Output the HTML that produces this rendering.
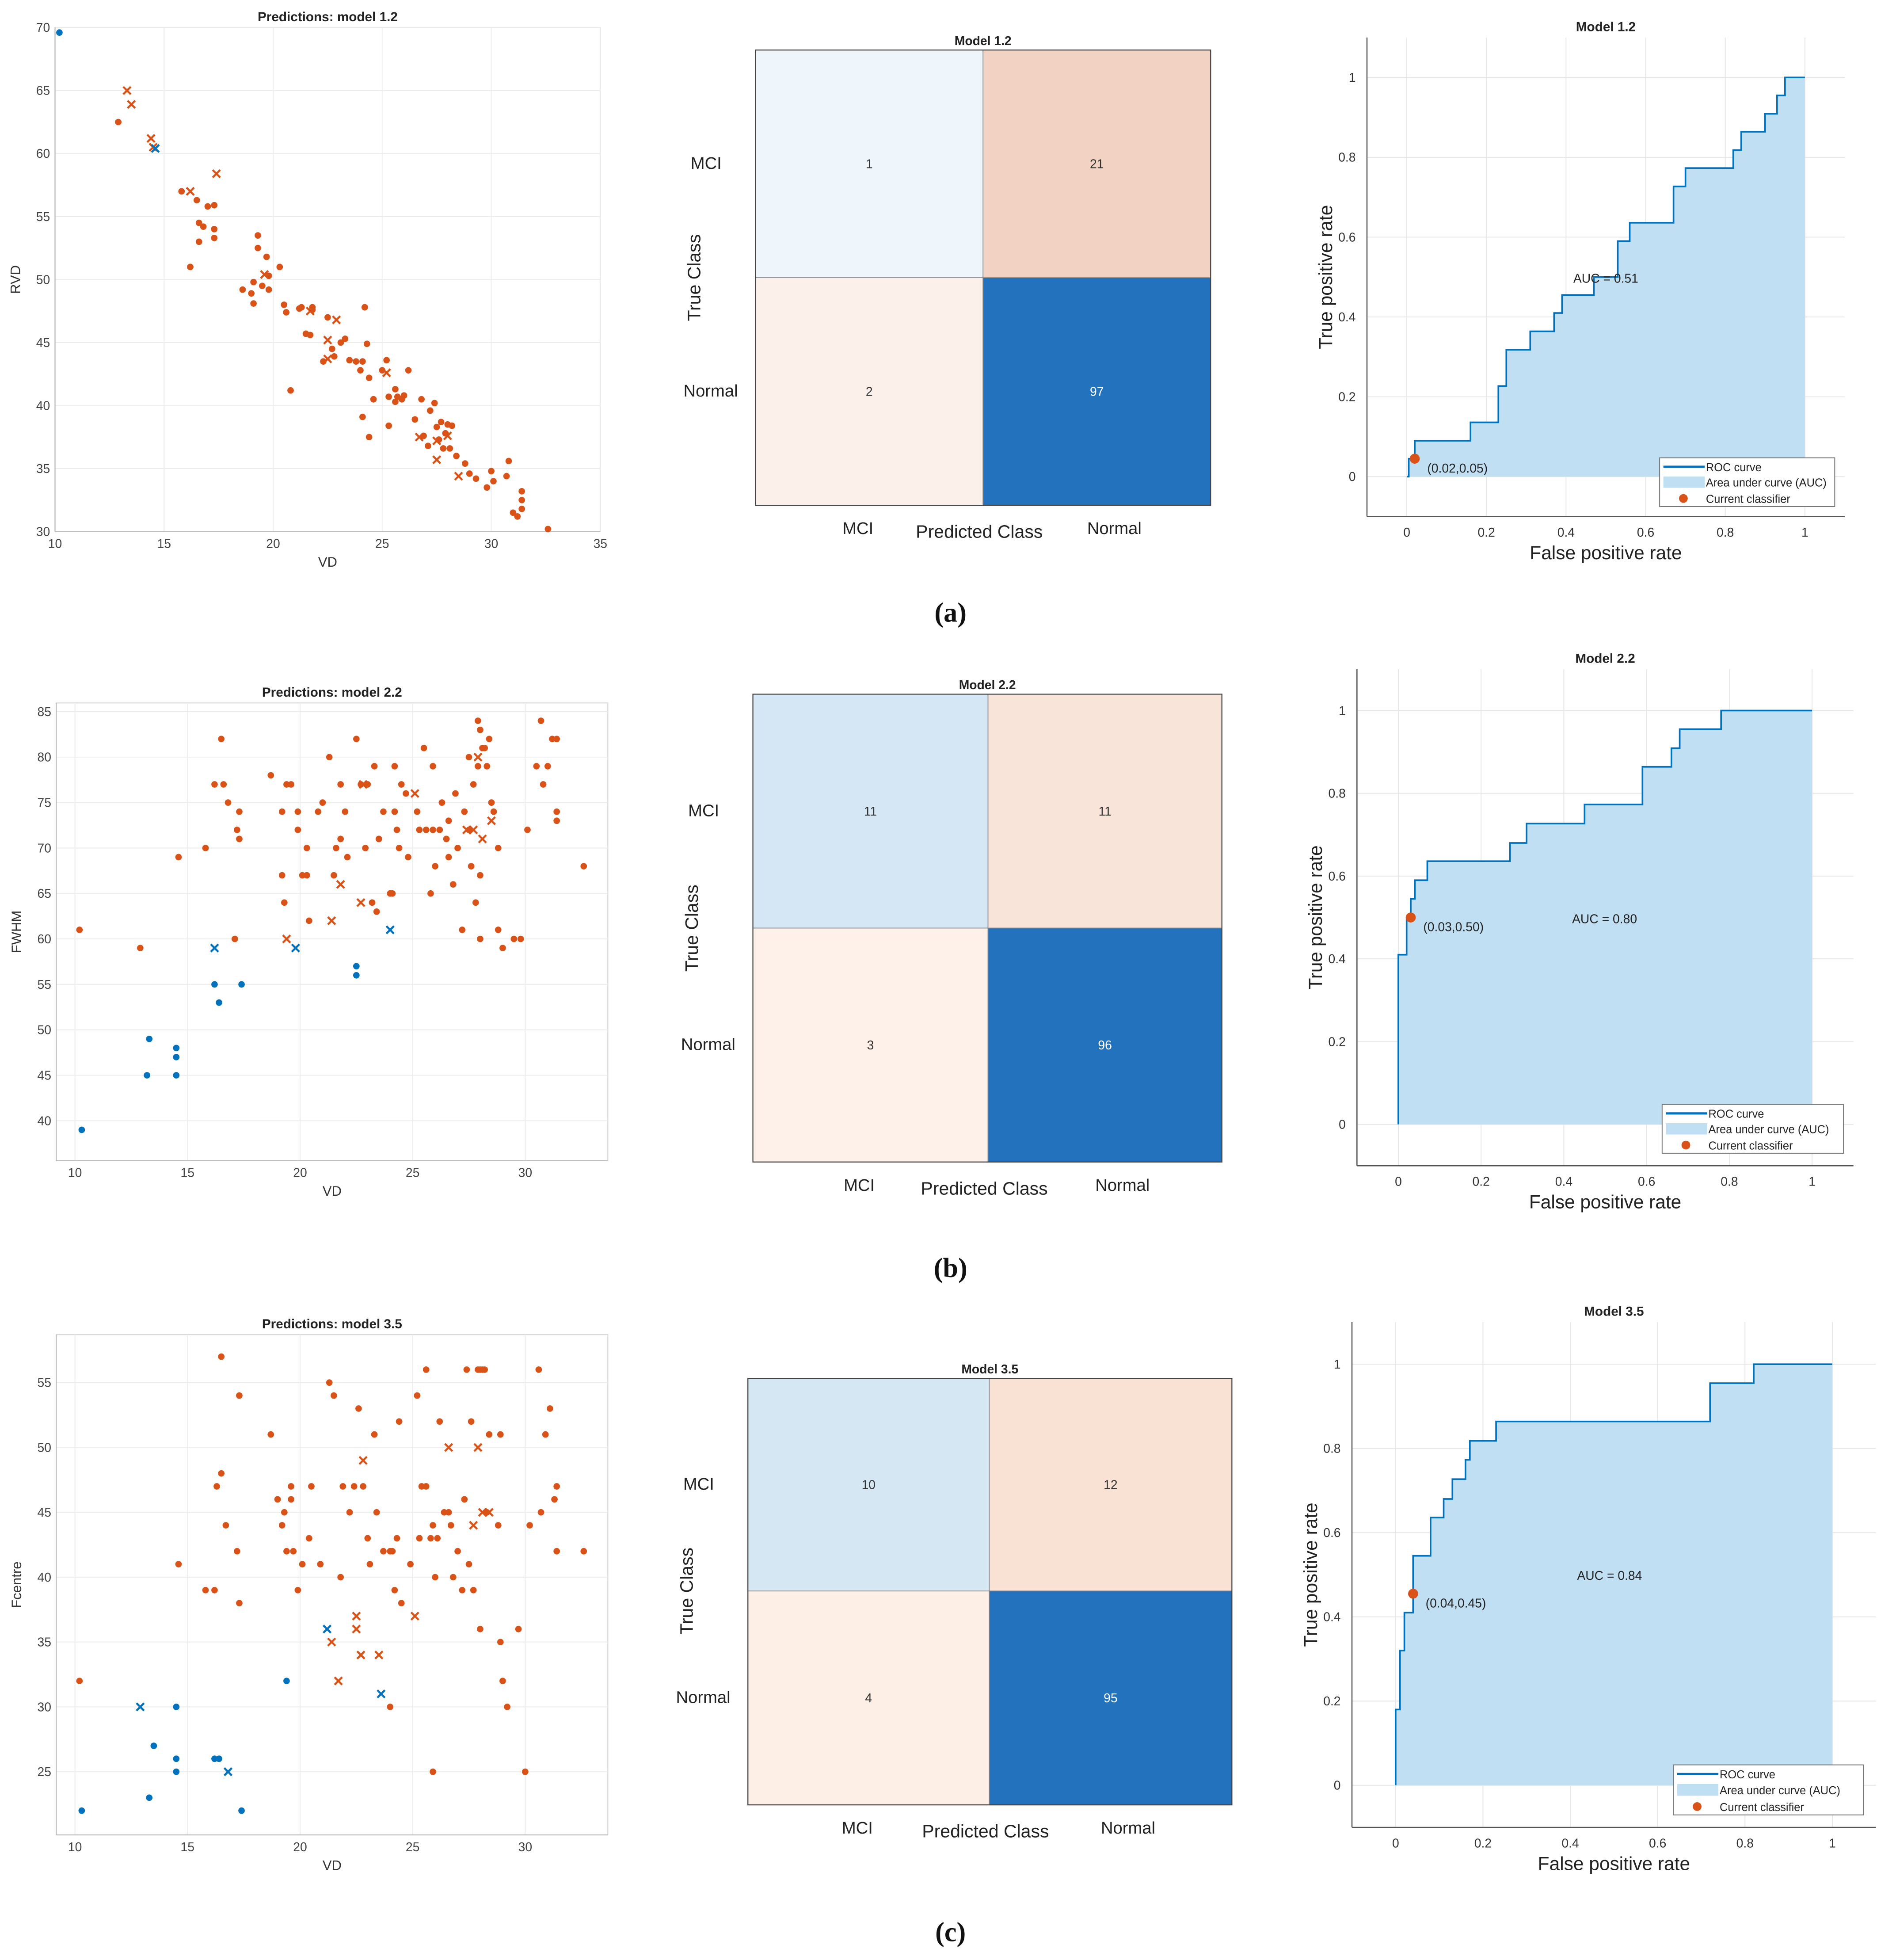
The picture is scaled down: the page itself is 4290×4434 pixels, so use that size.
<!DOCTYPE html>
<html><head><meta charset="utf-8">
<style>
html,body{margin:0;padding:0;background:#fff;}
svg{display:block;font-family:"Liberation Sans",sans-serif;}
</style></head>
<body>
<svg id="fig" width="4290" height="4434" viewBox="0 0 1516 1567" preserveAspectRatio="none" xmlns="http://www.w3.org/2000/svg"></svg>
<script>
// ---------- Scatter data ----------
const aOrangeDots = [[12.9,62.5],[15.8,57],[16.5,56.3],[16.6,54.5],[16.8,54.2],[16.6,53],[17,55.8],[17.3,55.9],[17.3,54],[17.3,53.3],[16.2,51],[19.3,53.5],[19.3,52.5],[19.7,51.8],[20.3,51],[19.8,50.3],[19.1,49.8],[19.5,49.5],[18.6,49.2],[19,48.9],[19.8,49.2],[19.1,48.1],[20.5,48],[20.6,47.4],[21.2,47.7],[21.3,47.8],[21.8,47.6],[21.8,47.8],[22.3,43.5],[21.5,45.7],[21.7,45.6],[22.5,47],[22.7,44.5],[22.8,43.9],[23.1,45],[23.3,45.3],[23.5,43.6],[23.8,43.5],[24,42.8],[24.1,43.5],[24.2,47.8],[24.3,44.9],[24.4,42.2],[24.6,40.5],[24.4,37.5],[24.1,39.1],[25,42.8],[25.2,43.6],[25.3,40.7],[25.3,38.4],[25.6,41.3],[25.7,40.7],[25.9,40.5],[26,40.8],[26.2,42.8],[26.5,38.9],[26.8,40.5],[26.9,37.6],[27.1,36.8],[27.2,39.6],[27.4,40.2],[27.5,38.3],[27.6,37.3],[27.7,38.7],[27.8,36.6],[27.9,37.8],[28,38.5],[28.1,36.6],[28.2,38.4],[28.4,36],[28.8,35.4],[29,34.6],[29.3,34.2],[29.8,33.5],[30,34.8],[30.1,34],[30.7,34.4],[30.8,35.6],[31,31.5],[31.2,31.2],[31.4,33.2],[31.4,32.5],[31.4,31.8],[32.6,30.2],[20.8,41.2],[25.6,40.3]];
const aOrangeCross = [[13.3,65],[13.5,63.9],[14.4,61.2],[14.5,60.5],[16.2,57],[17.4,58.4],[19.6,50.4],[21.7,47.5],[22.5,45.2],[22.5,43.7],[22.9,46.8],[25.2,42.6],[26.7,37.5],[27.5,35.7],[28,37.6],[28.5,34.4],[27.5,37.2]];
const aBlueDots = [[10.2,69.6]];
const aBlueCross = [[14.6,60.4]];

const bOrangeDots = [[10.2,61],[12.9,59],[14.6,69],[15.8,70],[16.2,77],[16.5,82],[16.6,77],[16.8,75],[17.1,60],[17.2,72],[17.3,71],[17.3,74],[18.7,78],[19.2,74],[19.2,67],[19.3,64],[19.4,77],[19.6,77],[19.9,72],[19.9,74],[20.1,67],[20.3,70],[20.3,67],[20.4,62],[20.8,74],[21,75],[21.3,80],[21.5,67],[21.6,70],[21.8,77],[22,74],[22.1,69],[22.5,82],[22.7,77],[22.9,70],[23,77],[23.2,64],[23.3,79],[23.4,63],[23.5,71],[23.7,74],[24,65],[24.1,65],[24.2,79],[24.2,74],[24.3,72],[24.4,70],[24.5,77],[24.7,76],[24.8,69],[25.2,74],[25.3,72],[25.5,81],[25.6,72],[25.8,65],[25.9,72],[26,68],[26.2,72],[26.3,75],[26.5,71],[26.6,73],[26.6,69],[26.8,66],[26.9,76],[27,70],[27.2,61],[27.3,74],[27.5,72],[27.6,68],[27.7,77],[27.8,64],[27.9,79],[28,67],[28.2,81],[28.4,82],[28.6,74],[28.8,70],[27.5,80],[27.9,84],[28,83],[28.1,81],[28.3,79],[28.5,75],[28,60],[28.8,61],[29,59],[29.5,60],[29.8,60],[30.1,72],[30.5,79],[30.7,84],[30.8,77],[31,79],[31.2,82],[31.4,82],[31.4,74],[31.4,73],[32.6,68],[21.8,71],[25.9,79]];
const bOrangeCross = [[19.4,60],[21.4,62],[21.8,66],[22.7,64],[22.8,77],[25.1,76],[27.4,72],[27.7,72],[28.1,71],[27.9,80],[28.5,73]];
const bBlueDots = [[10.3,39],[13.3,49],[13.2,45],[14.5,48],[14.5,47],[14.5,45],[16.2,55],[16.4,53],[17.4,55],[22.5,57],[22.5,56]];
const bBlueCross = [[16.2,59],[19.8,59],[24,61]];

const cOrangeDots = [[10.2,32],[14.6,41],[15.8,39],[16.2,39],[16.3,47],[16.5,48],[16.5,57],[16.7,44],[17.2,42],[17.3,54],[17.3,38],[18.7,51],[19,46],[19.3,45],[19.2,44],[19.4,42],[19.6,47],[19.6,46],[19.7,42],[19.9,39],[20.1,41],[20.4,43],[20.5,47],[20.9,41],[21.3,55],[21.5,54],[21.8,40],[22.2,45],[22.4,47],[22.6,53],[22.8,47],[23,43],[23.1,41],[23.3,51],[23.4,45],[23.7,42],[24,42],[24.1,42],[24.2,39],[24.3,43],[24.4,52],[24.5,38],[24.9,41],[25.2,54],[25.3,43],[25.4,47],[25.6,56],[25.6,47],[25.8,43],[25.9,44],[26,40],[26.1,43],[26.2,52],[26.4,45],[26.6,45],[26.7,44],[26.8,40],[27,42],[27.2,39],[27.3,46],[27.4,56],[27.5,41],[27.6,52],[27.7,39],[27.9,56],[28,56],[28.1,56],[28.2,56],[28.3,45],[28.4,51],[28,36],[28.8,44],[28.9,35],[29,32],[29.2,30],[29.7,36],[30,25],[30.2,44],[30.6,56],[30.7,45],[30.9,51],[31.1,53],[31.3,46],[31.4,47],[31.4,42],[32.6,42],[25.9,25],[24,30],[21.9,47],[28.9,51]];
const cOrangeCross = [[21.4,35],[21.7,32],[22.5,37],[22.5,36],[22.7,34],[22.8,49],[23.5,34],[25.1,37],[26.6,50],[27.7,44],[27.9,50],[28.1,45],[28.4,45]];
const cBlueDots = [[10.3,22],[13.3,23],[13.5,27],[14.5,30],[14.5,26],[14.5,25],[16.2,26],[16.4,26],[17.4,22],[19.4,32]];
const cBlueCross = [[12.9,30],[16.8,25],[21.2,36],[23.6,31]];

const aXTicks = [10,15,20,25,30,35];
const aYTicks = [30,35,40,45,50,55,60,65,70];
const bXTicks = [10,15,20,25,30];
const bYTicks = [40,45,50,55,60,65,70,75,80,85];
const cXTicks = [10,15,20,25,30];
const cYTicks = [25,30,35,40,45,50,55];

// ---------- Confusion matrices ----------
const cmA = [1,21,2,97];
const cmB = [11,11,3,96];
const cmC = [10,12,4,95];

// ---------- ROC ----------
const rocAX = [0,0.005,0.02,0.16,0.23,0.25,0.31,0.37,0.39,0.47,0.53,0.56,0.67,0.70,0.82,0.84,0.90,0.93,0.95,1];
const rocAY = [0,0.045,0.09,0.136,0.227,0.318,0.364,0.41,0.455,0.5,0.59,0.636,0.727,0.773,0.818,0.864,0.909,0.955,1,1];
const rocBX = [0,0,0.02,0.03,0.04,0.07,0.27,0.31,0.45,0.59,0.66,0.68,0.78,1];
const rocBY = [0,0.41,0.5,0.545,0.59,0.636,0.68,0.727,0.773,0.864,0.909,0.955,1,1];
const rocCX = [0,0,0.01,0.02,0.04,0.08,0.11,0.13,0.16,0.17,0.23,0.72,0.82,1];
const rocCY = [0,0.18,0.32,0.41,0.545,0.636,0.68,0.727,0.773,0.818,0.864,0.955,1,1];
const rocPts = [[0.02,0.045],[0.03,0.5],[0.04,0.455]];
const rocPtLabels = ["(0.02,0.05)","(0.03,0.50)","(0.04,0.45)"];
const aucLabels = ["AUC = 0.51","AUC = 0.80","AUC = 0.84"];
const rocTicks = [0,0.2,0.4,0.6,0.8,1];

const NS="http://www.w3.org/2000/svg";
const svg=document.getElementById('fig');
function mk(tag,at,parent){const e=document.createElementNS(NS,tag);for(const k in at)e.setAttribute(k,at[k]);(parent||svg).appendChild(e);return e;}
function txt(s,x,y,size,anchor,parent,extra){const e=mk('text',Object.assign({x:x,y:y,'font-size':size,'text-anchor':anchor||'middle',fill:'#222'},extra||{}),parent);e.textContent=s;return e;}
const ORANGE='#d95319', BLUE='#0072bd';

function scatter(cfg){
  const g=mk('g',{});
  
  
  const sx=v=>cfg.L+(v-cfg.x0)/(cfg.x1-cfg.x0)*(cfg.R-cfg.L);
  const sy=v=>cfg.B-(v-cfg.y0)/(cfg.y1-cfg.y0)*(cfg.B-cfg.T);
  const bg=mk('rect',{x:cfg.L,y:cfg.T,width:cfg.R-cfg.L,height:cfg.B-cfg.T,fill:'#fff',stroke:'#d8d8d8','stroke-width':0.8},g);
  
  
  cfg.xt.forEach(t=>{const x=sx(t);mk('line',{x1:x,x2:x,y1:cfg.T,y2:cfg.B,stroke:'#ececec','stroke-width':0.7},g);
    const l=txt(String(t),x,cfg.B+13,10,'middle',g,{fill:'#444'});});
  cfg.yt.forEach(t=>{const y=sy(t);mk('line',{x1:cfg.L,x2:cfg.R,y1:y,y2:y,stroke:'#ececec','stroke-width':0.7},g);
    const l=txt(String(t),cfg.L-4,y+3.5,10,'end',g,{fill:'#444'});});
  mk('line',{x1:cfg.L,x2:cfg.R,y1:cfg.B,y2:cfg.B,stroke:'#bbb','stroke-width':0.8},g);
  mk('line',{x1:cfg.L,x2:cfg.L,y1:cfg.T,y2:cfg.B,stroke:'#bbb','stroke-width':0.8},g);
  const ti=txt(cfg.title,(cfg.L+cfg.R)/2,cfg.T-5,10.5,'middle',g,{'font-weight':'bold'});
  
  const xl=txt('VD',(cfg.L+cfg.R)/2,cfg.B+28,11,'middle',g,{fill:'#333'});
  
  const yl=txt(cfg.ylab,0,0,11,'middle',g,{fill:'#333',transform:`translate(${cfg.L-28},${(cfg.T+cfg.B)/2}) rotate(-90)`});
  
  const dot=(arr,col,nm)=>arr.forEach(p=>{const c=mk('circle',{cx:sx(p[0]),cy:sy(p[1]),r:2.6,fill:col},g);});
  const cross=(arr,col,nm)=>arr.forEach(p=>{const x=sx(p[0]),y=sy(p[1]),d=3;const c=mk('path',{d:`M${x-d},${y-d}L${x+d},${y+d}M${x-d},${y+d}L${x+d},${y-d}`,stroke:col,'stroke-width':1.6},g);});
  dot(cfg.od,ORANGE,'normal-correct-point');cross(cfg.oc,ORANGE,'normal-incorrect-point');
  dot(cfg.bd,BLUE,'mci-correct-point');cross(cfg.bc,BLUE,'mci-incorrect-point');
}
scatter({name:'scatter-model-1-2',title:'Predictions: model 1.2',ylab:'RVD',L:44,R:480,T:22,B:425,x0:10,x1:35,y0:30,y1:70,xt:aXTicks,yt:aYTicks,od:aOrangeDots,oc:aOrangeCross,bd:aBlueDots,bc:aBlueCross});
scatter({name:'scatter-model-2-2',title:'Predictions: model 2.2',ylab:'FWHM',L:45,R:486,T:562,B:928,x0:9.17,x1:33.67,y0:35.6,y1:85.96,xt:bXTicks,yt:bYTicks,od:bOrangeDots,oc:bOrangeCross,bd:bBlueDots,bc:bBlueCross});
scatter({name:'scatter-model-3-5',title:'Predictions: model 3.5',ylab:'Fcentre',L:45,R:486,T:1067,B:1467,x0:9.17,x1:33.67,y0:20.13,y1:58.7,xt:cXTicks,yt:cYTicks,od:cOrangeDots,oc:cOrangeCross,bd:cBlueDots,bc:cBlueCross});

function cm(cfg){
  const g=mk('g',{});
  
  
  const cells=[[cfg.L,cfg.T,cfg.MX,cfg.MY],[cfg.MX,cfg.T,cfg.R,cfg.MY],[cfg.L,cfg.MY,cfg.MX,cfg.B],[cfg.MX,cfg.MY,cfg.R,cfg.B]];
  cells.forEach((c,i)=>{const r=mk('rect',{x:c[0],y:c[1],width:c[2]-c[0],height:c[3]-c[1],fill:cfg.cols[i],stroke:'#888','stroke-width':0.6},g);
    
    const t=txt(String(cfg.vals[i]),(c[0]+c[2])/2,(c[1]+c[3])/2+3.5,10,'middle',g,{fill:i===3?'#fff':'#333'});
    });
  mk('rect',{x:cfg.L,y:cfg.T,width:cfg.R-cfg.L,height:cfg.B-cfg.T,fill:'none',stroke:'#444','stroke-width':0.8},g);
  const ti=txt(cfg.title,(cfg.L+cfg.R)/2,cfg.T-4,10,'middle',g,{'font-weight':'bold'});
  
  const r1=txt('MCI',cfg.L-27,(cfg.T+cfg.MY)/2+4,13.5,'end',g);
  const r2=txt('Normal',cfg.L-14,(cfg.MY+cfg.B)/2+4,13.5,'end',g);
  const yl=txt('True Class',0,0,14.5,'middle',g,{transform:`translate(${cfg.L-44},${cfg.MY}) rotate(-90)`});
  
  const c1=txt('MCI',(cfg.L+cfg.MX)/2-9,cfg.B+23,13.5,'middle',g);
  const c2=txt('Normal',(cfg.MX+cfg.R)/2+14,cfg.B+23,13.5,'middle',g);
  const xl=txt('Predicted Class',cfg.MX-3,cfg.B+26,14.5,'middle',g);
  
}
cm({name:'confusion-matrix-1-2',title:'Model 1.2',L:604,R:968,T:40,B:404,MX:786,MY:222,vals:cmA,cols:['#eef6fb','#f2d3c3','#fcf1ea','#2272bd']});
cm({name:'confusion-matrix-2-2',title:'Model 2.2',L:602,R:977,T:555,B:929,MX:790,MY:742,vals:cmB,cols:['#d5e7f4','#f9e4d9','#fdf1ea','#2272bd']});
cm({name:'confusion-matrix-3-5',title:'Model 3.5',L:598,R:985,T:1102,B:1443,MX:791,MY:1272,vals:cmC,cols:['#d6e7f4','#f9e1d4','#fdefe6','#2272bd']});

function roc(cfg){
  const g=mk('g',{});
  
  
  const sx=v=>cfg.L+(v+0.1)/1.2*(cfg.R-cfg.L);
  const sy=v=>cfg.B-(v+0.1)/1.2*(cfg.B-cfg.T);
  rocTicks.forEach(t=>{
    mk('line',{x1:sx(t),x2:sx(t),y1:cfg.T,y2:cfg.B,stroke:'#e6e6e6','stroke-width':0.7},g);
    mk('line',{x1:cfg.L,x2:cfg.R,y1:sy(t),y2:sy(t),stroke:'#e6e6e6','stroke-width':0.7},g);
    const lx=txt(String(t),sx(t),cfg.B+16,10,'middle',g,{fill:'#333'});
    const ly=txt(String(t),cfg.L-9,sy(t)+3.5,10,'end',g,{fill:'#333'});
  });
  let d=`M${sx(cfg.xs[0])},${sy(cfg.ys[0])}`;
  for(let i=1;i<cfg.xs.length;i++){d+=`L${sx(cfg.xs[i])},${sy(cfg.ys[i-1])}L${sx(cfg.xs[i])},${sy(cfg.ys[i])}`;}
  const area=mk('path',{d:d+`L${sx(1)},${sy(0)}Z`,fill:'#c0dff2',stroke:'none'},g);
  
  const line=mk('path',{d:d,fill:'none',stroke:'#0072bd','stroke-width':1.3},g);
  
  mk('line',{x1:cfg.L,x2:cfg.R,y1:cfg.B,y2:cfg.B,stroke:'#555','stroke-width':0.9},g);
  mk('line',{x1:cfg.L,x2:cfg.L,y1:cfg.T,y2:cfg.B,stroke:'#555','stroke-width':0.9},g);
  const p=cfg.pt;
  const pt=mk('circle',{cx:sx(p[0]),cy:sy(p[1]),r:4,fill:ORANGE},g);
  
  const pl=txt(cfg.ptLabel,sx(p[0])+10,sy(p[1])+11,10,'start',g);
  
  const au=txt(cfg.auc,cfg.aucX,cfg.aucY,10,'start',g);
  
  const ti=txt(cfg.title,(cfg.L+cfg.R)/2,cfg.T-5,10.5,'middle',g,{'font-weight':'bold'});
  
  const xl=txt('False positive rate',(cfg.L+cfg.R)/2,cfg.B+34,15,'middle',g);
  
  const yl=txt('True positive rate',0,0,15,'middle',g,{transform:`translate(${cfg.L-28},${(cfg.T+cfg.B)/2}) rotate(-90)`});
  
  const lg=mk('g',{},g);
  
  const [lx,ly,lw,lh]=cfg.leg;
  mk('rect',{x:lx,y:ly,width:lw,height:lh,fill:'#fff',stroke:'#777','stroke-width':0.7},lg);
  const rh=lh/3;
  mk('line',{x1:lx+3,x2:lx+36,y1:ly+rh*0.55,y2:ly+rh*0.55,stroke:'#0072bd','stroke-width':1.8},lg);
  mk('rect',{x:lx+3,y:ly+rh+2,width:33,height:rh-4,fill:'#c0dff2'},lg);
  mk('circle',{cx:lx+19,cy:ly+rh*2.5,r:3.5,fill:ORANGE},lg);
  const e1=txt('ROC curve',lx+37,ly+rh*0.55+3.5,9,'start',lg);
  const e2=txt('Area under curve (AUC)',lx+37,ly+rh*1.5+3.5,9,'start',lg);
  const e3=txt('Current classifier',lx+37,ly+rh*2.5+3.5,9,'start',lg);
}
roc({name:'roc-model-1-2',title:'Model 1.2',L:1093,R:1475,T:30,B:413,xs:rocAX,ys:rocAY,pt:rocPts[0],ptLabel:rocPtLabels[0],auc:aucLabels[0],aucX:1258,aucY:226,leg:[1327,366,140,39]});
roc({name:'roc-model-2-2',title:'Model 2.2',L:1085,R:1482,T:535,B:932,xs:rocBX,ys:rocBY,pt:rocPts[1],ptLabel:rocPtLabels[1],auc:aucLabels[1],aucX:1257,aucY:738,leg:[1329,883,145,39]});
roc({name:'roc-model-3-5',title:'Model 3.5',L:1081,R:1500,T:1057,B:1461,xs:rocCX,ys:rocCY,pt:rocPts[2],ptLabel:rocPtLabels[2],auc:aucLabels[2],aucX:1261,aucY:1263,leg:[1338,1411,152,40]});

[['(a)',497],['(b)',1021],['(c)',1552]].forEach(c=>{
  const t=txt(c[0],760,c[1],22,'middle',svg,{'font-family':'"Liberation Serif",serif','font-weight':'bold',fill:'#111'});
  
  
});
</script>
</body></html>
